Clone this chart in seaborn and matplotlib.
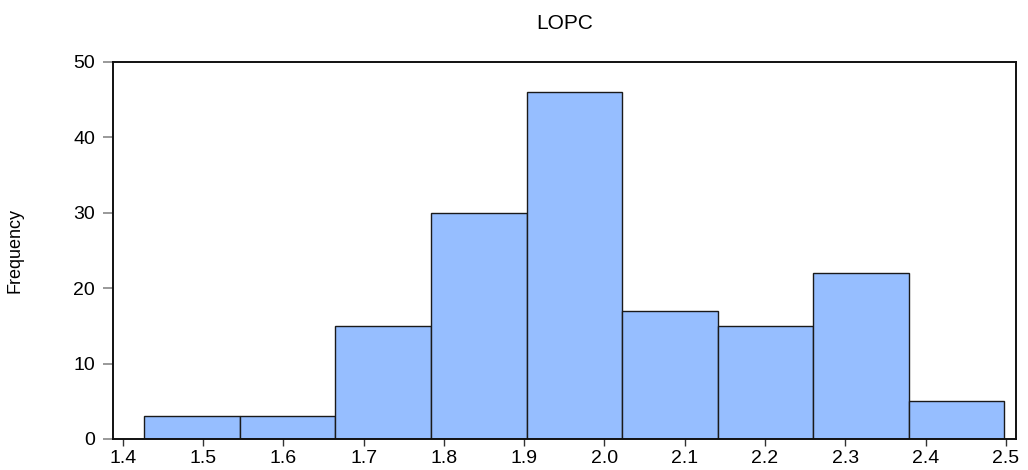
import matplotlib
matplotlib.use("Agg")
import matplotlib.pyplot as plt
import seaborn as sns

# Histogram of LOPC - counts
bin_edges = [1.427, 1.546, 1.665, 1.784, 1.903, 2.022, 2.141, 2.260, 2.379, 2.498]
counts = [3, 3, 15, 30, 46, 17, 15, 22, 5]
bin_mids = [(a + b) / 2 for a, b in zip(bin_edges[:-1], bin_edges[1:])]
x_ticks = [1.4, 1.5, 1.6, 1.7, 1.8, 1.9, 2.0, 2.1, 2.2, 2.3, 2.4, 2.5]
y_ticks = [0, 10, 20, 30, 40, 50]

sns.set_style("ticks")
plt.rcParams["font.family"] = ["Liberation Sans", "DejaVu Sans"]
plt.rcParams["text.color"] = "black"

fig = plt.figure(figsize=(10.28, 4.70), dpi=100)
ax = fig.add_axes([0.1102, 0.0660, 0.8781, 0.8021])

sns.histplot(
    x=bin_mids,
    weights=counts,
    bins=bin_edges,
    color="#96BEFF",
    edgecolor="#1a1a1a",
    linewidth=1.0,
    alpha=1.0,
    ax=ax,
)

ax.set_xlim(1.3883, 2.5125)
ax.set_ylim(0, 50)
ax.set_xticks(x_ticks)
ax.set_xticklabels([f"{t:.1f}" for t in x_ticks])
ax.set_yticks(y_ticks)

for side in ["left", "right", "top", "bottom"]:
    ax.spines[side].set_visible(True)
    ax.spines[side].set_color("#111111")
    ax.spines[side].set_linewidth(1.4)

ax.tick_params(axis="x", direction="out", length=5, width=1.0,
               color="#333333", labelsize=14, pad=3, labelcolor="black")
ax.tick_params(axis="y", direction="out", length=7, width=1.2,
               color="#888888", labelsize=14, pad=6, labelcolor="black")

ax.set_title("LOPC", fontsize=15, pad=24, color="black")
ax.set_xlabel("")
ax.set_ylabel("Frequency", fontsize=13, color="black")
ax.yaxis.set_label_coords(-0.100, 0.5)
ax.grid(False)

plt.savefig("out.png", dpi=100)
